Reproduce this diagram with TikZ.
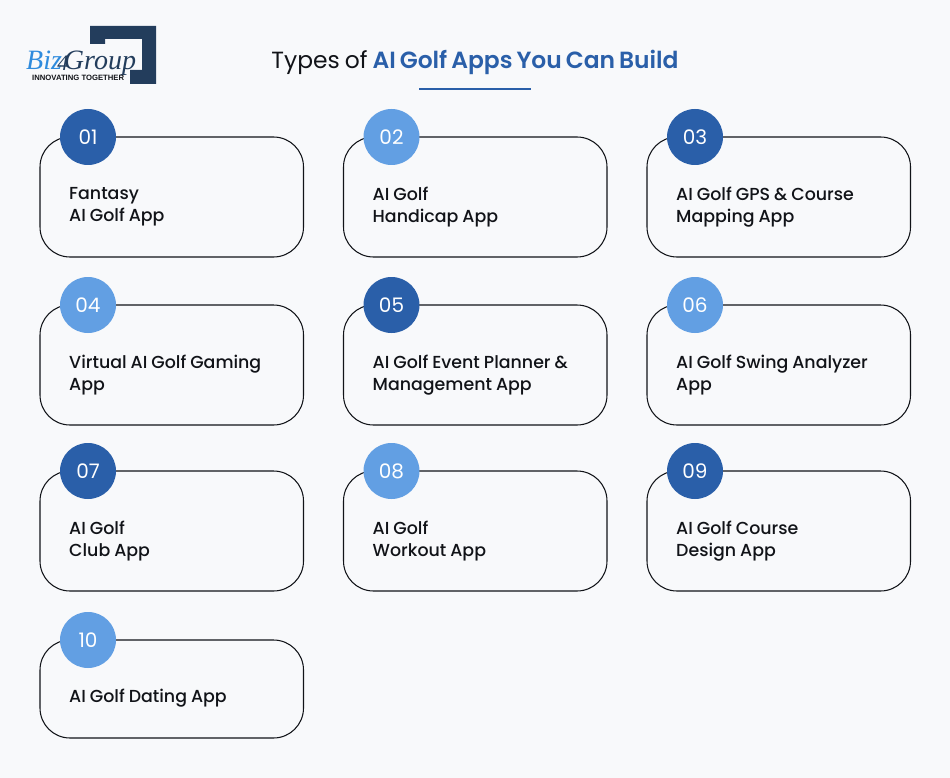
\documentclass[tikz,border=0pt]{standalone}
\usepackage{fontspec}
\setmainfont{Poppins}[WordSpace=0.8]
\newfontfamily\popm{Poppins Medium}[WordSpace=0.88]
\newfontfamily\pops{Poppins SemiBold}[WordSpace=0.72]
\newfontfamily\logofont{Liberation Serif}
\newfontfamily\tagfont{Liberation Sans}
\definecolor{pagebg}{HTML}{F8F9FB}
\definecolor{deepblue}{HTML}{2A5FA9}
\definecolor{lightblue}{HTML}{629FE3}
\definecolor{logonavy}{HTML}{233D5C}
\definecolor{logoblue}{HTML}{2F8BDD}
\definecolor{ink}{HTML}{111318}
\tikzset{
  x=1pt,y=-1pt,
  card/.style={draw=ink,line width=1.05pt,rounded corners=30pt},
  badge/.style={circle,minimum size=56pt,inner sep=0pt,text=white,font=\fontsize{20}{20}\selectfont},
  dark/.style={badge,fill=deepblue},
  light/.style={badge,fill=lightblue},
  label/.style={anchor=west,align=left,inner sep=0pt,text=ink,font=\popm\fontsize{17.4}{22}\selectfont},
}
\newcommand{\appcard}[8]{% id, x, y, height, style, number, text
  \draw[card] (#2,#3) rectangle ++(263.5,#4);
  \node[#5] (c#1) at (#2+48,#3) {#6};
  \node[label] (t#1) at (#2+29,#7) {#8};
}
\begin{document}
\begin{tikzpicture}
\useasboundingbox (0,0) rectangle (950,778);
\fill[pagebg] (0,0) rectangle (950,778);
% logo
\fill[logonavy] (90,26) -- (156,26) -- (156,84) -- (130,84) -- (130,70) -- (142,70) -- (142,39) -- (105,39) -- (105,44) -- (90,44) -- cycle;
\node[anchor=base west,inner sep=0pt,font=\logofont\itshape\fontsize{28}{28}\selectfont] (logo) at (26,70) {\textcolor{logoblue}{Biz}\kern-4.5pt\textcolor{logonavy}{\raisebox{-1pt}{\fontsize{22}{22}\selectfont 4}}\kern-4.5pt\textcolor{logonavy}{Group}};
\node[anchor=base west,inner sep=0pt,text=ink,font=\tagfont\bfseries\fontsize{7.7}{8}\selectfont] (tag) at (32,80.5) {INNOVATING TOGETHER};
% title
\node[inner sep=0pt,anchor=base,font=\fontsize{23.4}{23}\selectfont] (title) at (475,69) {\textcolor{ink}{Types of} \textcolor{deepblue}{\pops AI Golf Apps You Can Build}};
\coordinate (ruleL) at (419,89.5);
\coordinate (ruleR) at (531,89.5);
\draw[draw=deepblue,line width=2pt] (ruleL) -- (ruleR);
% cards
\appcard{1}{40}{137}{120}{dark}{01}{207}{Fantasy\\AI Golf App}
\appcard{2}{343.5}{137}{120}{light}{02}{207}{AI Golf\\Handicap App}
\appcard{3}{647}{137}{120}{dark}{03}{207}{AI Golf GPS \& Course\\Mapping App}
\appcard{4}{40}{305}{120}{light}{04}{375}{Virtual AI Golf Gaming\\App}
\appcard{5}{343.5}{305}{120}{dark}{05}{375}{AI Golf Event Planner \&\\Management App}
\appcard{6}{647}{305}{120}{light}{06}{375}{AI Golf Swing Analyzer\\App}
\appcard{7}{40}{471}{120}{dark}{07}{541.5}{AI Golf\\Club App}
\appcard{8}{343.5}{471}{120}{light}{08}{541.5}{AI Golf\\Workout App}
\appcard{9}{647}{471}{120}{dark}{09}{541.5}{AI Golf Course\\Design App}
\appcard{10}{40}{640}{98}{light}{10}{698.5}{AI Golf Dating App}
\end{tikzpicture}
\end{document}
